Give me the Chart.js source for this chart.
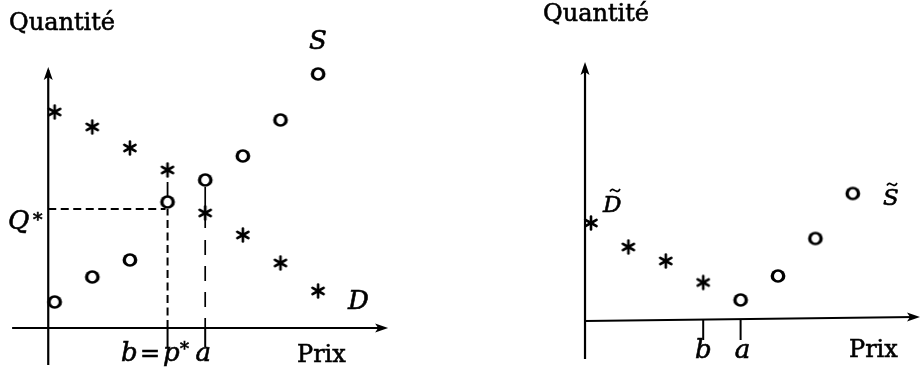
<!DOCTYPE html>
<html><head><meta charset="utf-8">
<script src="https://cdn.jsdelivr.net/npm/chart.js@4"></script>
<style>
html,body{margin:0;padding:0;background:#fff;}
#wrap{position:relative;width:920px;height:375px;overflow:hidden;}
canvas{position:absolute;top:0;}
#c1{left:0px}
#c2{left:460px}
</style></head><body>
<div id="wrap"><canvas id="c1" width="460" height="375"></canvas><canvas id="c2" width="460" height="375"></canvas></div>
<script>
// ---------- data (price index, quantity) ----------
const pricesLeft = [0, 1, 2, 3, 4, 5, 6, 7];
const demandLeft = [21.6, 20.1, 18.0, 15.8, 11.5, 9.3, 6.5, 3.7];
const supplyLeft = [2.6, 5.1, 6.8, 12.6, 14.8, 17.2, 20.8, 25.4];

const pricesDemandRight = [0, 1, 2, 3];
const demandRight = [9.7, 7.3, 5.9, 3.75];
const pricesSupplyRight = [4, 5, 6, 7];
const supplyRight = [2.0, 4.4, 8.15, 12.65];

const qStar = 11.9;   // equilibrium quantity (left panel)
const priceB = 3;     // b = p*
const priceA = 4;     // a

const axisTitleY = 'Quantité';
const axisTitleX = 'Prix';

const SERIF = '"DejaVu Serif", "Liberation Serif", serif';

// ---------- marker images ----------
function makeStar() {
  const c = document.createElement('canvas');
  c.width = 18; c.height = 18;
  const g = c.getContext('2d');
  g.strokeStyle = '#000'; g.lineWidth = 2.6; g.lineCap = 'round';
  const r = 6.4;
  for (const deg of [90, 270, 30, 150, 210, 330]) {
    const a = deg * Math.PI / 180;
    g.beginPath(); g.moveTo(9, 9);
    g.lineTo(9 + r * Math.cos(a), 9 - r * Math.sin(a)); g.stroke();
  }
  return c;
}
function makeO() {
  const c = document.createElement('canvas');
  c.width = 18; c.height = 18;
  const g = c.getContext('2d');
  g.fillStyle = '#000';
  g.beginPath(); g.ellipse(9, 9, 7.4, 6.7, 0, 0, Math.PI * 2); g.fill();
  g.globalCompositeOperation = 'destination-out';
  g.beginPath(); g.ellipse(9, 9, 4.0, 4.3, 0, 0, Math.PI * 2); g.fill();
  return c;
}
const STAR = makeStar();
const OH = makeO();

function pts(xs, ys) { return xs.map((x, i) => ({x: x, y: ys[i]})); }

function ds(data, img) {
  return {data: data, pointStyle: img, pointRadius: 8, showLine: false, clip: false,
          borderColor: '#000', backgroundColor: '#000'};
}

// ---------- drawing helpers ----------
function line(ctx, x1, y1, x2, y2, w, dash) {
  ctx.save();
  ctx.strokeStyle = '#000'; ctx.lineWidth = w; ctx.setLineDash(dash || []);
  ctx.beginPath(); ctx.moveTo(x1, y1); ctx.lineTo(x2, y2); ctx.stroke();
  ctx.restore();
}
function arrowUp(ctx, x, y) {
  ctx.save(); ctx.fillStyle = '#000';
  ctx.beginPath(); ctx.moveTo(x, y); ctx.lineTo(x - 4.5, y + 13); ctx.lineTo(x, y + 10); ctx.lineTo(x + 4.5, y + 13);
  ctx.closePath(); ctx.fill(); ctx.restore();
}
function arrowRight(ctx, x, y) {
  ctx.save(); ctx.fillStyle = '#000';
  ctx.beginPath(); ctx.moveTo(x, y); ctx.lineTo(x - 13, y - 4.5); ctx.lineTo(x - 10, y); ctx.lineTo(x - 13, y + 4.5);
  ctx.closePath(); ctx.fill(); ctx.restore();
}
function text(ctx, s, x, y, font, align) {
  ctx.save(); ctx.fillStyle = '#000'; ctx.strokeStyle = '#000'; ctx.lineWidth = 0.6;
  ctx.font = font; ctx.textAlign = align || 'left'; ctx.textBaseline = 'alphabetic';
  ctx.fillText(s, x, y); ctx.strokeText(s, x, y); ctx.restore();
}
function tilde(ctx, cx, y, w) {
  ctx.save(); ctx.strokeStyle = '#000'; ctx.lineWidth = 1.7;
  ctx.beginPath();
  ctx.moveTo(cx - w / 2, y + 1.5);
  ctx.bezierCurveTo(cx - w / 4, y - 2.5, cx - w / 8, y + 0.5, cx, y + 0.5);
  ctx.bezierCurveTo(cx + w / 8, y + 0.5, cx + w / 4, y + 3.5, cx + w / 2, y - 1);
  ctx.stroke(); ctx.restore();
}

const ROM = '24px ' + SERIF;
const IT = 'italic 26px ' + SERIF;
const IT2 = 'italic 23px ' + SERIF;

const leftPlugin = {
  id: 'leftDecor',
  beforeDatasetsDraw(chart) {
    const ctx = chart.ctx, X = chart.scales.x, Y = chart.scales.y;
    const xp = v => X.getPixelForValue(v), yp = v => Y.getPixelForValue(v);
    const x0 = xp(-0.17), y0 = yp(0);
    // axes
    line(ctx, x0, yp(-3.7), x0, yp(25.8), 2.2);
    arrowUp(ctx, x0, yp(26.1));
    line(ctx, xp(-1.13), y0, xp(8.7), y0, 2.2);
    arrowRight(ctx, xp(8.86), y0);
    // equilibrium dashes
    line(ctx, x0, yp(qStar), xp(priceB) - 2, yp(qStar), 2, [8, 4.5]);
    line(ctx, xp(priceB), y0, xp(priceB), yp(qStar), 2, [8, 4.5]);
    line(ctx, xp(priceB), yp(13.2), xp(priceB), yp(14.6), 1.8);
    line(ctx, xp(priceB), y0, xp(priceB), yp(-2.0), 2);
    // line at a
    line(ctx, xp(priceA), yp(14.1), xp(priceA), yp(10.0), 1.7);
    line(ctx, xp(priceA), yp(8.8), xp(priceA), y0, 1.7, [15, 11]);
    line(ctx, xp(priceA), y0, xp(priceA), yp(-1.9), 2);
  },
  afterDatasetsDraw(chart) {
    const ctx = chart.ctx, X = chart.scales.x;
    const xp = v => X.getPixelForValue(v);
    text(ctx, axisTitleY, 9, 30, ROM);
    text(ctx, axisTitleX, 297, 362, ROM);
    text(ctx, 'S', 309, 49, IT);
    text(ctx, 'D', 348, 309, IT);
    text(ctx, 'Q', 8, 229, IT);
    text(ctx, '*', 33, 226, '19px ' + SERIF);
    text(ctx, 'b', 121, 361, IT);
    text(ctx, '=', 140, 361, ROM);
    text(ctx, 'p', 163, 361, IT);
    text(ctx, '*', 180, 355, '18px ' + SERIF);
    text(ctx, 'a', xp(priceA) - 2, 361, IT, 'center');
  }
};

const rightPlugin = {
  id: 'rightDecor',
  beforeDatasetsDraw(chart) {
    const ctx = chart.ctx, X = chart.scales.x, Y = chart.scales.y;
    const xp = v => X.getPixelForValue(v), yp = v => Y.getPixelForValue(v);
    const x0 = xp(-0.16), y0 = yp(0);
    line(ctx, x0, yp(-3.9), x0, yp(25.4), 2.2);
    arrowUp(ctx, x0, yp(25.8));
    line(ctx, x0, y0 + 1, 455, y0 - 3, 2.2);
    arrowRight(ctx, 460, y0 - 3);
    line(ctx, xp(priceB), y0, xp(priceB), yp(-2.0), 2);
    line(ctx, xp(priceA), y0, xp(priceA), yp(-2.0), 2);
  },
  afterDatasetsDraw(chart) {
    const ctx = chart.ctx, X = chart.scales.x;
    const xp = v => X.getPixelForValue(v);
    text(ctx, axisTitleY, 83, 21, ROM);
    text(ctx, axisTitleX, 389, 357, ROM);
    text(ctx, 'b', xp(priceB), 358, IT, 'center');
    text(ctx, 'a', xp(priceA) + 2, 358, IT, 'center');
    text(ctx, 'D', 143, 212, IT2);
    tilde(ctx, 155, 190, 10);
    text(ctx, 'S', 423, 205, IT2);
    tilde(ctx, 432, 184, 10);
  }
};

function baseOptions(xmin, xmax, ymin, ymax, pad) {
  return {
    responsive: false, animation: false, devicePixelRatio: 1,
    layout: {padding: pad},
    plugins: {legend: {display: false}, tooltip: {enabled: false}, title: {display: false}},
    scales: {
      x: {type: 'linear', min: xmin, max: xmax, display: false},
      y: {type: 'linear', min: ymin, max: ymax, display: false}
    }
  };
}

new Chart(document.getElementById('c1'), {
  type: 'scatter',
  data: {datasets: [ds(pts(pricesLeft, demandLeft), STAR), ds(pts(pricesLeft, supplyLeft), OH)]},
  options: baseOptions(-1, 9, -3, 29, {left: 17, right: 66.6, top: 38, bottom: 17}),
  plugins: [leftPlugin]
});

new Chart(document.getElementById('c2'), {
  type: 'scatter',
  data: {datasets: [ds(pts(pricesDemandRight, demandRight), STAR), ds(pts(pricesSupplyRight, supplyRight), OH)]},
  options: baseOptions(-3, 7, -3, 29, {left: 18.8, right: 67.2, top: 30, bottom: 25}),
  plugins: [rightPlugin]
});
</script>
</body></html>
